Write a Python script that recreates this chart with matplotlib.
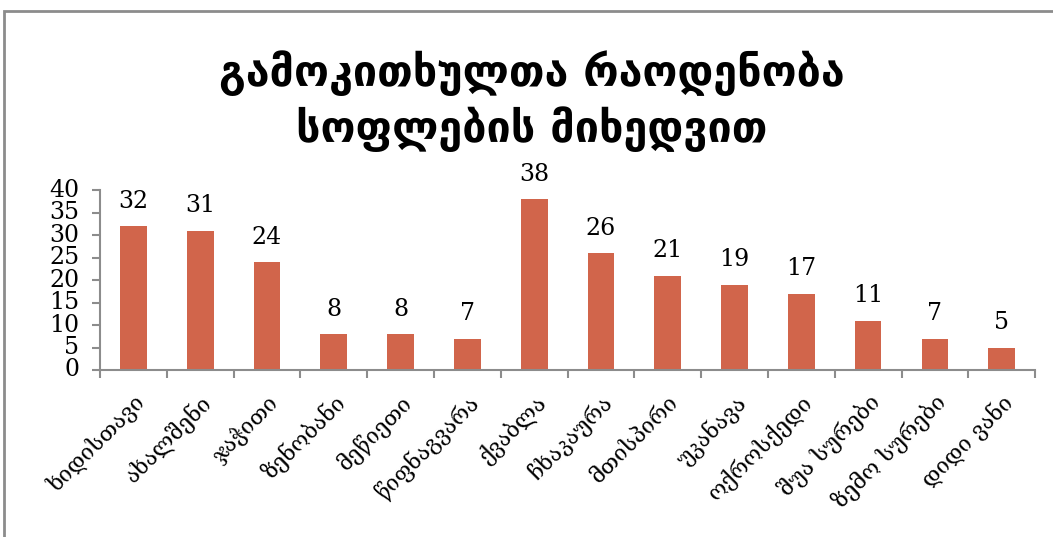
import numpy as np
import matplotlib.pyplot as plt
from matplotlib.patches import Rectangle

# village names and respondents count
villages = ['ხიდისთავი', 'ახალშენი', 'ჯაჭითი', 'ზენობანი', 'მეწიეთი', 'წიფნაგვარა', 'ქვაბლა',
            'ჩხაკაურა', 'მთისპირი', 'უკანავა', 'ოქროსქედი', 'შუა სურები', 'ზემო სურები', 'დიდი ვანი']
counts = [32, 31, 24, 8, 8, 7, 38, 26, 21, 19, 17, 11, 7, 5]
yticks = [0, 5, 10, 15, 20, 25, 30, 35, 40]

title = 'გამოკითხულთა რაოდენობა\nსოფლების მიხედვით'

bar_color = '#D1654B'
axis_color = '#8C8C8C'
font = ['DejaVu Serif', 'DejaVu Sans']

fig = plt.figure(figsize=(10.53, 5.37), dpi=100)
ax = fig.add_axes([0.095, 0.311, 0.888, 0.335])

# outer chart frame
fig.patches.append(Rectangle((0.004, -0.01), 1.2, 0.99, transform=fig.transFigure,
                             fill=False, edgecolor=axis_color, linewidth=2))

x = np.arange(len(villages))
bars = ax.bar(x, counts, width=0.4, color=bar_color)

for xi, v in zip(x, counts):
    ax.text(xi, v + 3.0, str(v), ha='center', va='bottom', fontsize=17, family=font)

ax.set_xlim(-0.5, len(villages) - 0.5)
ax.set_ylim(0, 40)
ax.set_yticks(yticks)
ax.set_yticklabels([str(t) for t in yticks], family=font, fontsize=17)
for lab in ax.get_yticklabels():
    lab.set_verticalalignment('center')

ax.set_xticks(x)
ax.set_xticklabels(villages, rotation=45, ha='right', rotation_mode='anchor',
                   family=font, fontsize=16)
ax.tick_params(axis='x', length=0, pad=15)
ax.set_xticks(np.arange(len(villages) + 1) - 0.5, minor=True)
ax.tick_params(axis='x', which='minor', length=6, color=axis_color, width=1.5)
ax.tick_params(axis='y', length=6, color=axis_color, width=1.5, pad=9)

for s in ['top', 'right']:
    ax.spines[s].set_visible(False)
for s in ['left', 'bottom']:
    ax.spines[s].set_color(axis_color)
    ax.spines[s].set_linewidth(1.5)

fig.text(0.505, 0.812, title, ha='center', va='center', fontsize=31,
         fontweight='bold', family=['DejaVu Sans'], linespacing=1.3)

fig.savefig('out.png', dpi=100)
